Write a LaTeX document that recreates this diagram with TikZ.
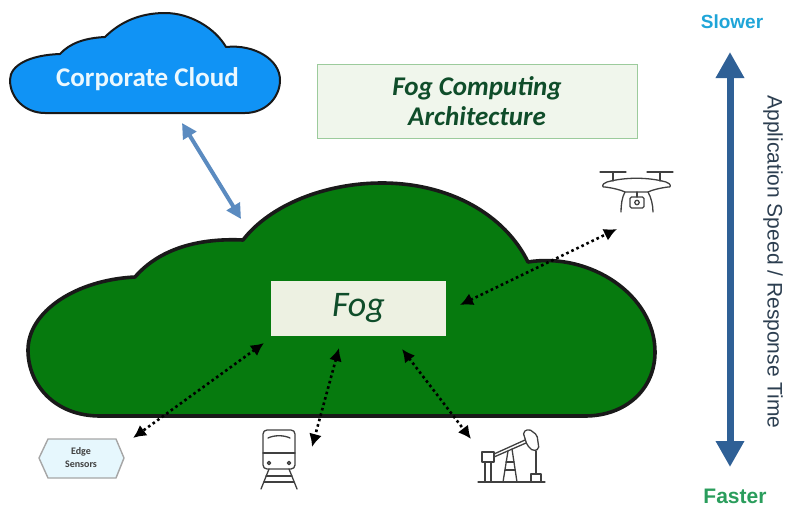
\documentclass[tikz,border=0pt]{standalone}
\usepackage{fontspec}
\setmainfont{Carlito}
\newfontfamily\arialfont{Liberation Sans}
\usetikzlibrary{arrows.meta}
\definecolor{fogGreen}{HTML}{067A0E}
\definecolor{cloudBlue}{HTML}{1093F5}
\definecolor{textGreen}{HTML}{0F4D2A}
\definecolor{linkBlue}{HTML}{5B8BC0}
\definecolor{speedBlue}{HTML}{2F6096}
\definecolor{slowerCyan}{HTML}{1FA5D8}
\definecolor{fasterGreen}{HTML}{2A9D5C}
\definecolor{labelSlate}{HTML}{2C3E50}
\definecolor{titleFill}{HTML}{F0F6EC}
\definecolor{titleEdge}{HTML}{9CCB9C}
\definecolor{fogFill}{HTML}{EDF1E2}
\tikzset{%
  cloud line/.style={draw=black!90, line width=3.6pt, line join=round},
  titlebox/.style={draw=titleEdge, line width=1pt, fill=titleFill, minimum width=320pt, minimum height=74pt, align=center, text=textGreen, font=\fontsize{27}{30}\selectfont\bfseries\itshape},
  fogbox/.style={fill=fogFill, minimum width=175pt, minimum height=55pt, font=\fontsize{36}{40}\selectfont\itshape, text=textGreen},
  linkdot/.style={draw=black, line width=2.6pt, dash pattern=on 2.6pt off 3pt, {Latex[length=13pt,width=13pt]}-{Latex[length=13pt,width=13pt]}},
  linkblue/.style={draw=linkBlue, line width=4pt, {Triangle[length=15pt,width=15pt]}-{Triangle[length=15pt,width=15pt]}},
  speedline/.style={draw=speedBlue, line width=7pt, {Triangle[length=26pt,width=27pt]}-{Triangle[length=26pt,width=27pt]}},
  sensor/.style={align=center, inner sep=0pt, font=\fontsize{10}{13}\selectfont\bfseries, text=black!75},
  sensor hull/.style={draw=gray!70, line width=1.4pt, fill=cyan!10, line join=round},
  speedlabel/.style={inner sep=0pt, font=\arialfont\fontsize{19}{22}\selectfont\bfseries},
  icon/.style={draw=black!75, line width=1.3pt, line cap=round, line join=round},
}
\begin{document}
\begin{tikzpicture}[x=1pt, y=-1pt]
\useasboundingbox (0,0) rectangle (785,506);
% clouds
\draw[cloud line, fill=fogGreen] (100,416)
  .. controls (55,416) and (28,385) .. (28,350)
  .. controls (28,312) and (75,280) .. (135,277)
  .. controls (160,248) and (200,238) .. (243,240)
  .. controls (270,205) and (325,183) .. (382,183)
  .. controls (450,183) and (505,215) .. (528,262)
  .. controls (590,252) and (655,295) .. (655,352)
  .. controls (655,390) and (625,416) .. (585,416) -- cycle;
\draw[cloud line, line width=2pt, fill=cloudBlue] (45,113)
  .. controls (25,113) and (10,98) .. (10,80)
  .. controls (10,65) and (30,55) .. (60,54)
  .. controls (70,43) and (85,38) .. (105,37)
  .. controls (120,22) and (140,13) .. (165,13)
  .. controls (190,13) and (215,28) .. (226,47)
  .. controls (255,44) and (280,60) .. (280,80)
  .. controls (280,98) and (265,113) .. (245,113) -- cycle;
\node[text=white!92!cyan, font=\fontsize{27}{30}\selectfont\bfseries] (corp) at (147.5,79) {Corporate Cloud};
% boxes
\node[titlebox] (title) at (477,101) {Fog Computing\\Architecture};
\node[fogbox] (fog) at (358.5,308.5) {Fog};
\draw[sensor hull] (39,458) -- (48,439) -- (116,439) -- (124,458) -- (116,478) -- (48,478) -- cycle;
\node[sensor] (edge) at (81,458) {Edge\\Sensors};
% speed scale
\node[speedlabel, text=slowerCyan] (slower) at (732,22) {Slower};
\node[speedlabel, text=fasterGreen, font=\arialfont\fontsize{21}{24}\selectfont\bfseries] (faster) at (735,496) {Faster};
\node[rotate=-90, font=\arialfont\fontsize{21}{24}\selectfont, text=labelSlate] (speed) at (773,262) {Application Speed / Response Time};
\coordinate (s1) at (730,52);
\coordinate (s2) at (730,467);
\draw[speedline] (s1) -- (s2);
% links
\coordinate (c1) at (182,123);
\coordinate (c2) at (241,219);
\draw[linkblue] (c1) -- (c2);
\coordinate (d1) at (460,305);
\coordinate (d2) at (617,229);
\draw[linkdot] (d1) -- (d2);
\coordinate (e1) at (264,343);
\coordinate (e2) at (133,438);
\draw[linkdot] (e1) -- (e2);
\coordinate (t1) at (339,348);
\coordinate (t2) at (312,447);
\draw[linkdot] (t1) -- (t2);
\coordinate (p1) at (402,349);
\coordinate (p2) at (471,439);
\draw[linkdot] (p1) -- (p2);
% drone
\begin{scope}[icon]
\draw (600,172) -- (626,172) (647,172) -- (673,172);
\draw (613,172) -- (613,181) (660,172) -- (660,181);
\draw (607,182) .. controls (625,177) and (648,177) .. (666,182)
  .. controls (672,184) and (671,188) .. (668,187) .. controls (660,188) and (652,190) .. (648,192)
  -- (625,192) .. controls (621,190) and (613,188) .. (605,187) .. controls (602,188) and (601,184) .. (607,182) -- cycle;
\draw (625,192) .. controls (622,197) and (621,205) .. (621,212);
\draw (648,192) .. controls (651,197) and (653,205) .. (653,212);
\draw (637,192) -- (637,197);
\draw[rounded corners=1.5pt] (630,197) rectangle (644,208);
\draw (637,202.5) circle (2.2);
\end{scope}
% train
\begin{scope}[icon]
\draw[rounded corners=4pt] (263,430) rectangle (295,469);
\draw (263,453) -- (295,453);
\draw (268,438) .. controls (274,435) and (284,435) .. (290,438);
\draw (269,463) circle (1.6) (289,463) circle (1.6);
\draw (269,469) -- (261,489) (289,469) -- (297,489);
\draw (266,476) -- (292,476) (264,482) -- (294,482);
\end{scope}
% pump jack
\begin{scope}[icon]
\draw (478,482) -- (545,482);
\draw (482,452) rectangle (494,462);
\draw (485,462) -- (485,482) (491,462) -- (491,482);
\draw (494,457) -- (526,443) (494,454) -- (525,440);
\draw (503,482) -- (508,451) (517,482) -- (512,449);
\draw (505,470) -- (515,470) (506,462) -- (514,462);
\draw[rounded corners=2pt] (523,432) -- (529,429) -- (537,435) -- (539,449) -- (533,451) -- (527,445) -- cycle;
\draw (536,451) -- (536,474);
\draw (531,474) rectangle (541,482);
\end{scope}
\end{tikzpicture}
\end{document}
